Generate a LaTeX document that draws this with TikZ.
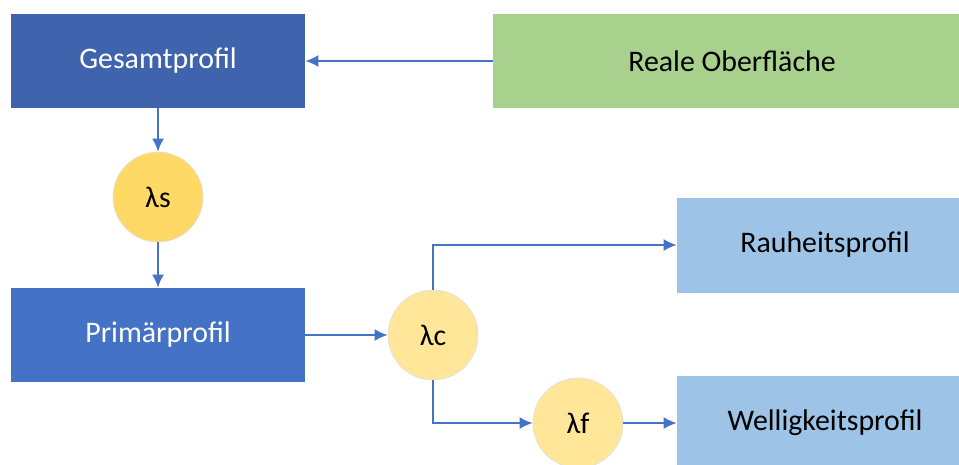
\documentclass[tikz,border=0pt]{standalone}
\usepackage{fontspec}
\setmainfont{Carlito}
\usetikzlibrary{arrows.meta}
\definecolor{darkblue}{HTML}{3F63AD}
\definecolor{midblue}{HTML}{4472C4}
\definecolor{lightblue}{HTML}{9DC3E6}
\definecolor{lightgreen}{HTML}{A9D18E}
\definecolor{gold}{HTML}{FFD966}
\definecolor{paleyellow}{HTML}{FFE699}

\begin{document}
\begin{tikzpicture}[x=0.02cm, y=-0.02cm,
  box/.style={rectangle, minimum width=5.88cm, minimum height=1.88cm, inner sep=0pt,
    font=\fontsize{17}{20}\selectfont},
  filt/.style={circle, minimum size=1.8cm, inner sep=0pt, draw=black!12,
    font=\fontsize{17}{20}\selectfont},
  link/.style={midblue, line width=1.1pt, -{Latex[length=0.26cm, width=0.24cm]}}]
  \useasboundingbox (0,0) rectangle (959,464);
  \node[box, fill=darkblue, text=white] (gesamt) at (158,61) {Gesamtprofil};
  \node[box, fill=lightgreen, minimum width=9.56cm] (real) at (732,61) {Reale Oberfläche};
  \node[filt, fill=gold] (ls) at (158,197) {λs};
  \node[box, fill=midblue, text=white] (primaer) at (158,335) {Primärprofil};
  \node[filt, fill=paleyellow] (lc) at (433,335) {λc};
  \node[filt, fill=paleyellow] (lf) at (578,423) {λf};
  \node[box, fill=lightblue, minimum width=5.92cm, minimum height=1.9cm] (rauh) at (825,245) {Rauheitsprofil};
  \node[box, fill=lightblue, minimum width=5.92cm, minimum height=1.9cm] (well) at (825,423) {Welligkeitsprofil};

  \draw[link] (real) -- (gesamt);
  \draw[link] (gesamt) -- (ls);
  \draw[link] (ls) -- (primaer);
  \draw[link] (primaer) -- (lc);
  \draw[link] (lc.north) |- (rauh.west);
  \draw[link] (lc.south) |- (lf.west);
  \draw[link] (lf) -- (well);
\end{tikzpicture}
\end{document}
